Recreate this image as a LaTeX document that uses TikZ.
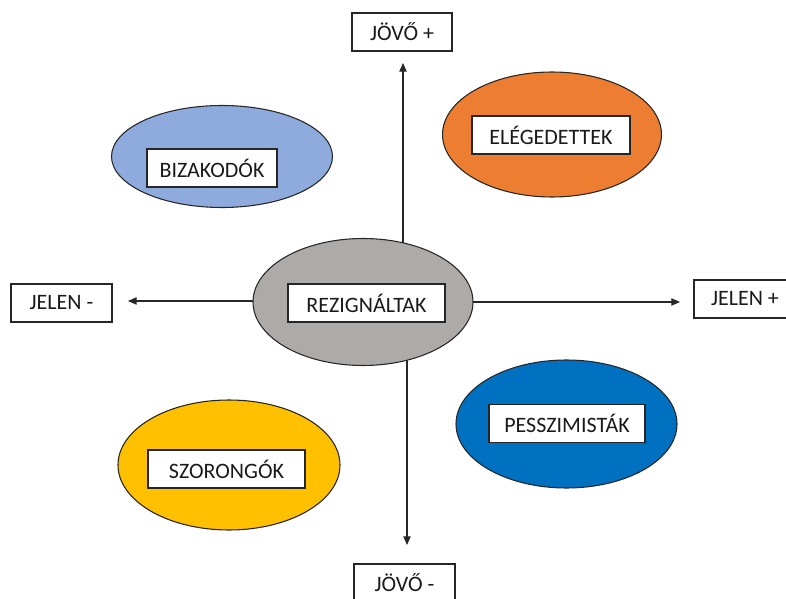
\documentclass[tikz,border=0pt]{standalone}
\usepackage{fontspec}
\setmainfont{Carlito}
\usetikzlibrary{shapes.geometric,arrows.meta,backgrounds}
\definecolor{cgray}{HTML}{AEAAAA}
\definecolor{clblue}{HTML}{8FAADC}
\definecolor{corange}{HTML}{ED7D31}
\definecolor{cblue}{HTML}{0070C0}
\definecolor{cyellow}{HTML}{FFC000}
\definecolor{ctext}{HTML}{1A1A1A}
\begin{document}
\begin{tikzpicture}[x=0.75pt,y=-0.75pt,
  blob/.style={ellipse, draw=black!85, line width=0.8pt, inner sep=0pt},
  lbl/.style={rectangle, draw=black!85, line width=1pt, fill=white, minimum height=28.5pt, inner sep=0pt, font=\fontsize{16.5}{19}\selectfont, text=ctext},
  axis/.style={line width=0.8pt, draw=black!85, -{Triangle[width=5.5pt,length=6.5pt]}}]
\useasboundingbox (0,0) rectangle (786,599);
\clip (0,0) rectangle (786,599);
% ellipses
\node[blob, fill=cgray, minimum width=165pt, minimum height=95.25pt] (rez) at (363,302) {};
\node[blob, fill=clblue, minimum width=165.75pt, minimum height=76.5pt] (biz) at (222,156.5) {};
\node[blob, fill=corange, minimum width=164.25pt, minimum height=93.75pt] (ele) at (552,134.5) {};
\node[blob, fill=cblue, minimum width=165.75pt, minimum height=96pt] (pes) at (566.5,424) {};
\node[blob, fill=cyellow, minimum width=166.5pt, minimum height=97.5pt] (szo) at (229,465) {};
% inner labels
\node[lbl, minimum width=117.75pt] (rezl) at (366.5,303) {REZIGNÁLTAK};
\node[lbl, minimum width=97.5pt] (bizl) at (212,168) {BIZAKODÓK};
\node[lbl, minimum width=118.5pt] (elel) at (551,135) {ELÉGEDETTEK};
\node[lbl, minimum width=117pt] (pesl) at (567,423.5) {PESSZIMISTÁK};
\node[lbl, minimum width=117.75pt] (szol) at (226.5,469) {SZORONGÓK};
% axis labels
\node[lbl, minimum width=75pt] (jovop) at (402,32) {JÖVŐ +};
\node[lbl, minimum width=75.75pt] (jovom) at (404.5,583) {JÖVŐ -};
\node[lbl, minimum width=75.75pt] (jelenm) at (61.5,303) {JELEN -};
\node[lbl, minimum width=76.5pt] (jelenp) at (745,299) {JELEN +};
% arrow tips
\coordinate (tipU) at (403,63);
\coordinate (tipD) at (407,545);
\coordinate (tipL) at (128,301);
\coordinate (tipR) at (680,302);
\begin{scope}[on background layer]
\draw[axis] (rez.center -| tipU) -- (tipU);
\draw[axis] (rez.center -| tipD) -- (tipD);
\draw[axis] (rez.center |- tipL) -- (tipL);
\draw[axis] (rez.center |- tipR) -- (tipR);
\end{scope}
\end{tikzpicture}
\end{document}
